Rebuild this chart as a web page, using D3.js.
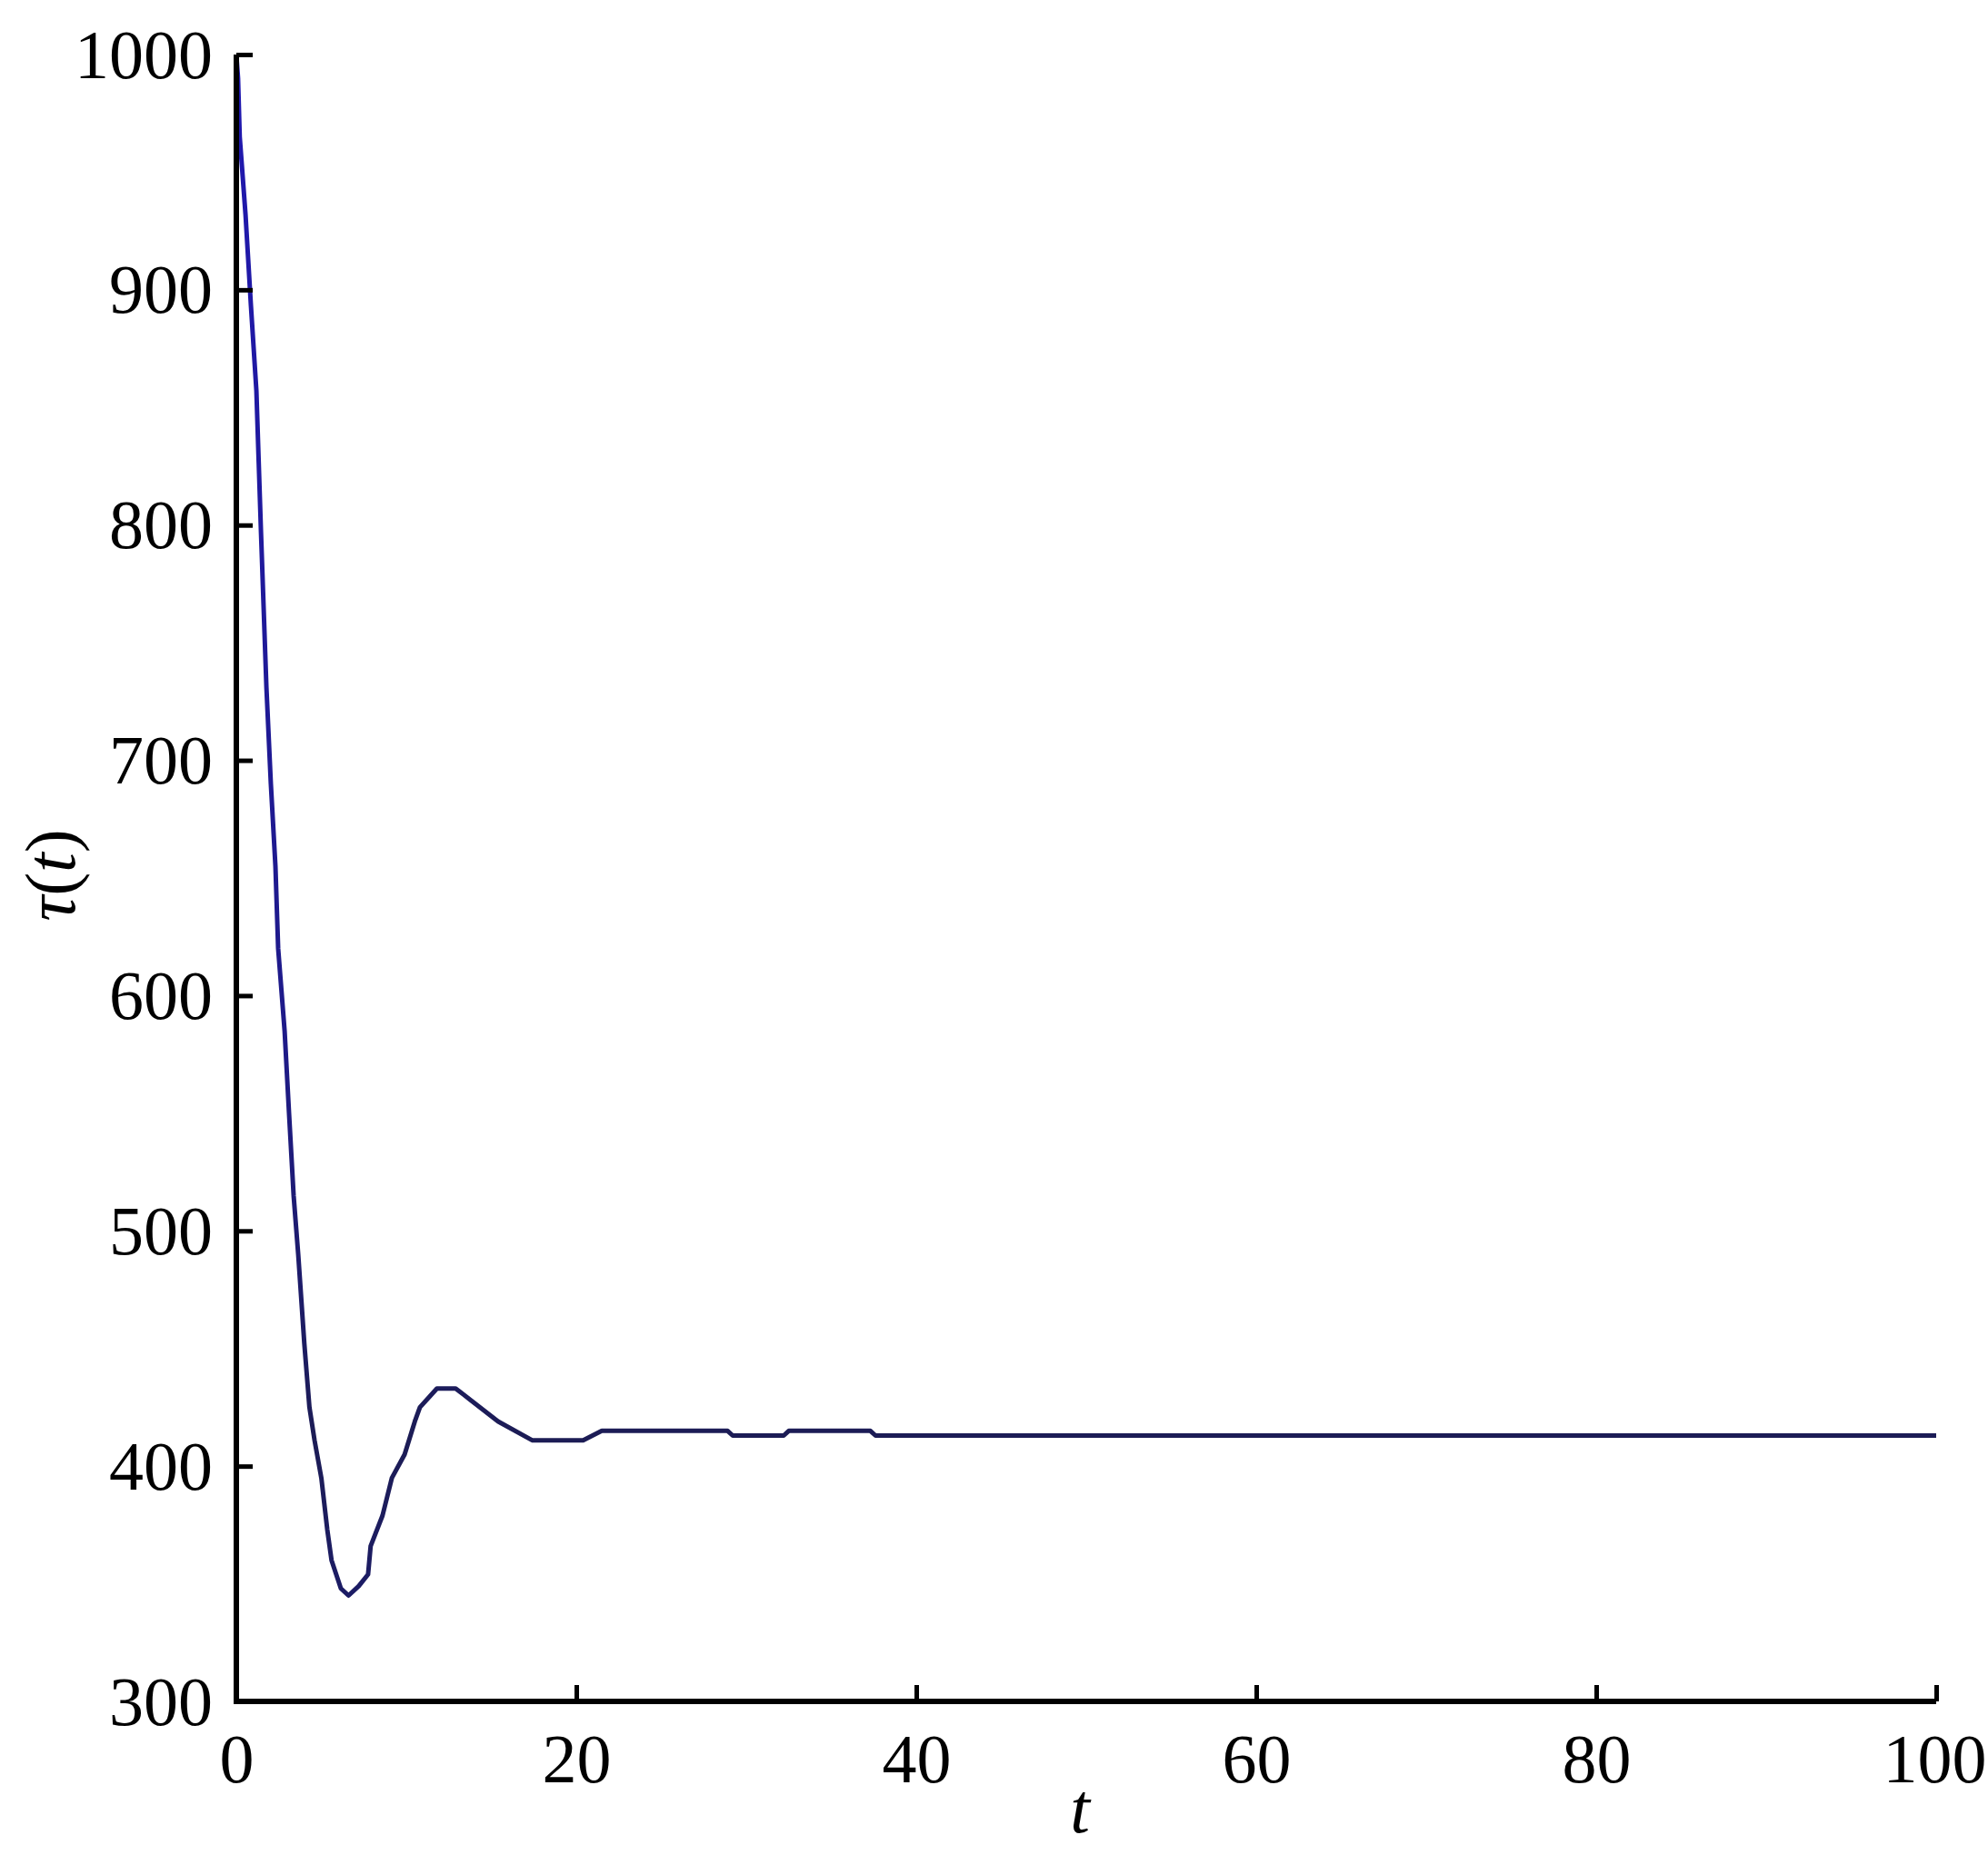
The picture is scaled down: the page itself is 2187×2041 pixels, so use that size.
<!DOCTYPE html>
<html>
<head>
<meta charset="utf-8">
<script src="https://cdn.jsdelivr.net/npm/d3@7/dist/d3.min.js"></script>
<style>
  html, body { margin: 0; padding: 0; background: #fff; }
  svg { display: block; }
</style>
</head>
<body>
<svg id="chart" width="2187" height="2041"></svg>
<script>
// ---- data ----
const tValues = [0, 0.1, 0.2, 0.54, 0.86, 1.18, 1.45, 1.77, 2.03, 2.3, 2.46, 2.84, 3.1, 3.37, 3.64,
  4.0, 4.3, 4.6, 5.0, 5.35, 5.6, 6.15, 6.6, 7.2, 7.75, 7.9, 8.6, 9.15, 9.9, 10.5, 10.8,
  11.8, 12.9, 13.8, 15.4, 17.4, 20.4, 21.5, 28.9, 29.2, 32.2, 32.5, 37.3, 37.6, 100];
const tauValues = [1000, 990, 965, 932, 893, 857, 797, 731, 690, 655, 620, 585, 550, 515, 490,
  452, 425, 411, 395, 373, 360, 348, 345, 349, 354, 366, 379, 395, 405, 419, 425,
  433, 433, 428, 419, 411, 411, 415, 415, 413, 413, 415, 415, 413, 413];
const xTicks = [0, 20, 40, 60, 80, 100];
const yTicks = [300, 400, 500, 600, 700, 800, 900, 1000];
const xLabel = "t";
const yLabelMain = "τ";
const yLabelArg = "t";

(function () {
// ---- layout ----
const mLeft = 260, mRight = 2130, mTop = 60, mBottom = 1872;
const svg = d3.select("#chart");
const x = d3.scaleLinear().domain([0, 100]).range([mLeft, mRight]);
const y = d3.scaleLinear().domain([300, 1000]).range([mBottom, mTop]);
const font = "'Liberation Serif', 'Times New Roman', serif";
const fs = 76;

// line
const data = tValues.map((t, i) => ({ t, v: tauValues[i] }));
const line = d3.line().x(d => x(d.t)).y(d => y(d.v));
const grad = svg.append("defs").append("linearGradient")
  .attr("id", "lg").attr("gradientUnits", "userSpaceOnUse")
  .attr("x1", 0).attr("y1", mTop).attr("x2", 0).attr("y2", mBottom);
grad.append("stop").attr("offset", "0").attr("stop-color", "#2018b0");
grad.append("stop").attr("offset", "0.6").attr("stop-color", "#1e1a88");
grad.append("stop").attr("offset", "0.84").attr("stop-color", "#1c1c55");
grad.append("stop").attr("offset", "1").attr("stop-color", "#1c1c70");
svg.append("path").datum(data)
  .attr("d", line)
  .attr("fill", "none")
  .attr("stroke", "url(#lg)")
  .attr("stroke-width", 5)
  .attr("stroke-linejoin", "round");

// axes
const fmt = d3.format("d");
const xAxis = d3.axisBottom(x).tickValues(xTicks).tickFormat(fmt).tickSizeInner(-18).tickSizeOuter(0).tickPadding(0);
const yAxis = d3.axisLeft(y).tickValues(yTicks).tickFormat(fmt).tickSizeInner(-18).tickSizeOuter(0).tickPadding(0);

const gx = svg.append("g").attr("transform", `translate(0,${mBottom})`).call(xAxis);
const gy = svg.append("g").attr("transform", `translate(${mLeft},0)`).call(yAxis);

[gx, gy].forEach(g => {
  g.select(".domain").attr("stroke", "#000").attr("stroke-width", 6);
  g.selectAll(".tick line").attr("stroke", "#000").attr("stroke-width", 5);
  g.selectAll(".tick text").attr("fill", "#000")
    .style("font-family", font).style("font-size", fs + "px");
});
gx.selectAll(".tick text").attr("y", 64).attr("dy", "0.33em");
gx.selectAll(".tick text").filter(d => d === 100).attr("x", -2);
gy.selectAll(".tick text").attr("x", -26).attr("dy", "0.33em");
gx.select(".domain").attr("d", `M${mLeft - 3},0H${mRight}`);
gy.select(".domain").attr("d", `M0,${mTop}V${mBottom + 3}`);

// axis titles
svg.append("text")
  .attr("x", 1188).attr("y", 2016)
  .attr("text-anchor", "middle")
  .style("font-family", font).style("font-size", "78px").style("font-style", "italic")
  .text(xLabel);

const yl = svg.append("text")
  .attr("transform", "translate(82,963) rotate(-90)")
  .attr("text-anchor", "middle")
  .style("font-family", font).style("font-size", "78px");
yl.append("tspan").style("font-style", "italic").text(yLabelMain);
yl.append("tspan").text("(");
yl.append("tspan").style("font-style", "italic").text(yLabelArg);
yl.append("tspan").text(")");
})();
</script>
</body>
</html>
